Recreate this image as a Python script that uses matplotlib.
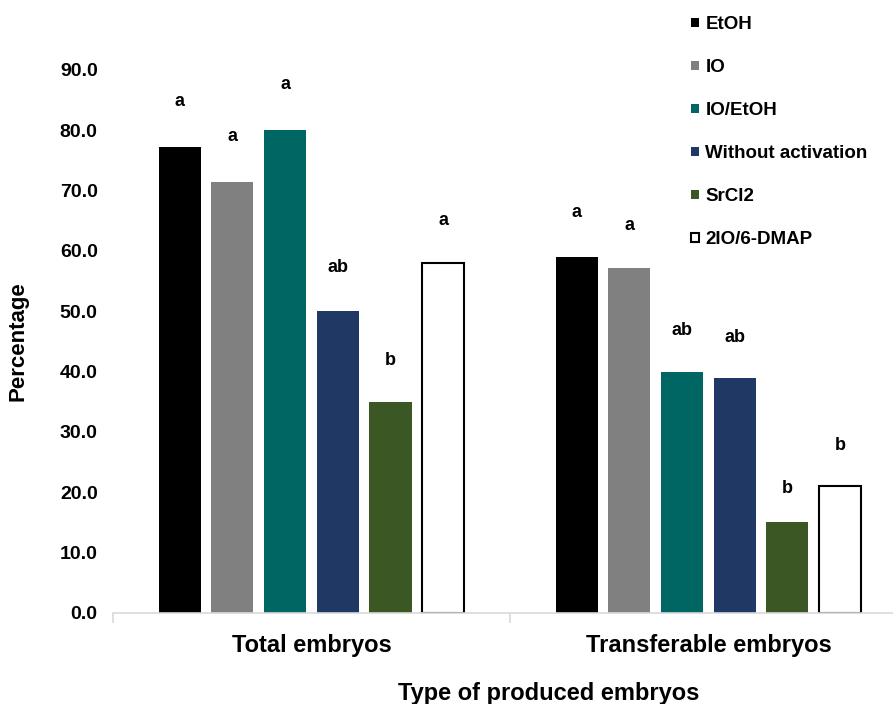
import numpy as np
import matplotlib
matplotlib.use('Agg')
import matplotlib.pyplot as plt

plt.rcParams['font.family'] = ['Liberation Sans', 'DejaVu Sans']
plt.rcParams['font.weight'] = 'bold'

groups = ['Total embryos', 'Transferable embryos']
treatments = ['EtOH', 'IO', 'IO/EtOH', 'Without activation', 'SrCl2', '2IO/6-DMAP']
total = [77.3, 71.4, 80.0, 50.0, 35.0, 58.0]
transferable = [59.0, 57.1, 40.0, 38.9, 15.0, 21.1]
total_letters = ['a', 'a', 'a', 'ab', 'b', 'a']
transferable_letters = ['a', 'a', 'ab', 'ab', 'b', 'b']
# height where the significance letters sit
total_letter_y = [84.7, 79.0, 87.6, 57.2, 41.8, 65.0]
transferable_letter_y = [66.3, 64.3, 46.8, 45.6, 20.7, 27.7]

colors = ['#000000', '#808080', '#006663', '#203864', '#3b5724', '#ffffff']

fig = plt.figure(figsize=(8.93, 7.04), dpi=100)
ax = fig.add_axes([0.1265, 0.1293, 0.8891, 0.7713])

x = np.arange(len(groups))
pitch = 0.1327
width = 0.106
values = np.array([total, transferable])
letters = [total_letters, transferable_letters]
letter_y = [total_letter_y, transferable_letter_y]

for i, t in enumerate(treatments):
    pos = x + (i - 2.5) * pitch
    ec = 'black' if colors[i] == '#ffffff' else colors[i]
    lw = 1.5 if colors[i] == '#ffffff' else 0
    ax.bar(pos, values[:, i], width, color=colors[i], edgecolor=ec, linewidth=lw, label=t, zorder=2)
    for g in range(len(groups)):
        ax.text(pos[g], letter_y[g][i], letters[g][i], ha='center', va='center',
                fontsize=13, fontweight='bold', clip_on=False)

ax.set_xlim(-0.5, 1.5)
ax.set_ylim(0, 90)
ax.set_yticks(np.arange(0, 91, 10))
ax.set_yticklabels(['{:.1f}'.format(v) for v in np.arange(0, 91, 10)], fontsize=14, fontweight='bold')
ax.tick_params(axis='y', length=0, pad=11)

ax.set_xticks(x)
ax.set_xticklabels(groups, fontsize=17, fontweight='bold')
ax.tick_params(axis='x', which='major', length=0, pad=15)
ax.set_xticks([-0.5, 0.5, 1.5], minor=True)
ax.tick_params(axis='x', which='minor', length=7, color='#d9d9d9', width=1.2)

for s in ['top', 'right', 'left']:
    ax.spines[s].set_visible(False)
ax.spines['bottom'].set_color('#d9d9d9')
ax.spines['bottom'].set_linewidth(1.2)

ax.set_ylabel('Percentage', fontsize=16, fontweight='bold')
ax.yaxis.set_label_coords(-0.106, 0.5)
ax.set_xlabel('Type of produced embryos', fontsize=17, fontweight='bold')
ax.xaxis.set_label_coords(0.549, -0.127)

fig.legend(loc='upper left', bbox_to_anchor=(0.758, 0.997), frameon=False,
           fontsize=13.5, handlelength=0.42, handleheight=0.35, handletextpad=0.35,
           labelspacing=1.39, borderaxespad=0.35)

fig.savefig('out.png', dpi=100)
